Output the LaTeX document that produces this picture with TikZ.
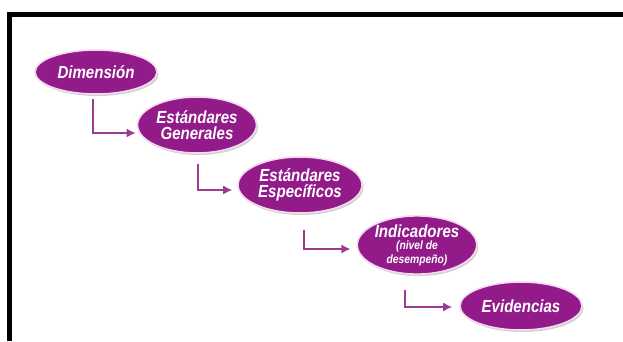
\documentclass[tikz,border=0pt]{standalone}
\usepackage{fontspec}
\setmainfont{Liberation Sans}[FakeStretch=0.86]
\usepackage{tikz}
\usetikzlibrary{arrows.meta,positioning,shapes.geometric,shadows}
\definecolor{stagepurple}{HTML}{921B89}
\definecolor{stagerim}{HTML}{F3DAEF}
\definecolor{arrowpurple}{HTML}{9B3C93}
\tikzset{
    myellipse/.style={ellipse, draw=stagerim, line width=1.6pt, fill=stagepurple, text=white, inner sep=0pt, align=center, font=\bfseries\itshape\fontsize{17.5}{16.5}\selectfont, drop shadow={shadow xshift=1.5pt, shadow yshift=-2pt, opacity=0.3, fill=black!60}},
    myarrow/.style={->, >={Latex[length=9pt,width=9pt]}, line width=1.5pt, draw=arrowpurple}
}

\begin{document}
\begin{tikzpicture}[x=1pt, y=-1pt]
\useasboundingbox (0,0) rectangle (623,341);
% frame
\draw[line width=5.5pt] (7,14.5) -- (623,14.5);
\draw[line width=4.5pt] (9.5,12) -- (9.5,341);

\node[myellipse, minimum width=122pt, minimum height=44pt] (dimension) at (96,72) {Dimensión};
\node[myellipse, minimum width=119pt, minimum height=56pt] (generales) at (197,125) {Estándares\\Generales};
\node[myellipse, minimum width=124pt, minimum height=56pt] (especificos) at (300,185) {Estándares\\Específicos};
\node[myellipse, minimum width=119pt, minimum height=56pt] (indicadores) at (417,245) {Indicadores\\[-4pt]{\fontsize{12}{10}\selectfont(nivel de}\\[-3pt]{\fontsize{12}{10}\selectfont desempeño)}};
\node[myellipse, minimum width=122pt, minimum height=48pt] (evidencias) at (521,306) {Evidencias};

\draw[myarrow] ([xshift=-3pt, yshift=-4pt]dimension.south) |- ([xshift=-1pt, yshift=-8pt]generales.west);
\draw[myarrow] ([xshift=1pt, yshift=-10pt]generales.south) |- ([xshift=-5pt, yshift=-5pt]especificos.west);
\draw[myarrow] ([xshift=4pt, yshift=-16pt]especificos.south) |- ([xshift=-6pt, yshift=-4pt]indicadores.west);
\draw[myarrow] ([xshift=-12pt, yshift=-15pt]indicadores.south) |- ([xshift=-7pt, yshift=-1pt]evidencias.west);

\end{tikzpicture}
\end{document}
